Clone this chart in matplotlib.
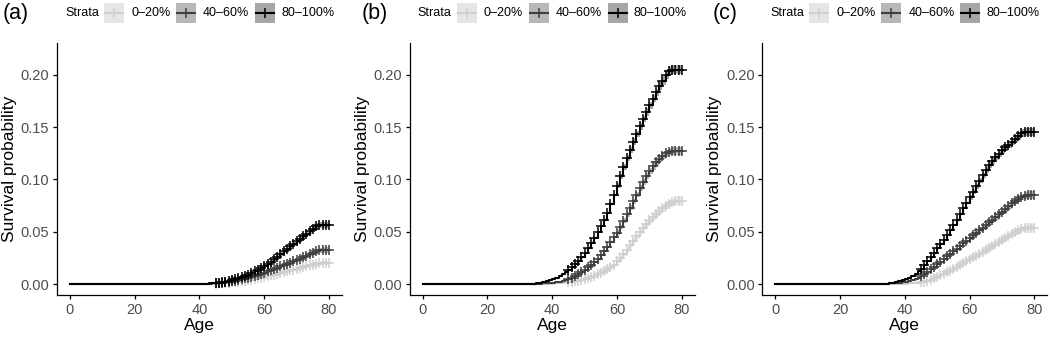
import matplotlib
matplotlib.use("Agg")
import matplotlib.pyplot as plt
from matplotlib.patches import Rectangle

plt.rcParams['font.family'] = ['Liberation Sans', 'DejaVu Sans']

strata = ['0\u201320%', '40\u201360%', '80\u2013100%']
panel_tags = ['(a)', '(b)', '(c)']

# ages where the curves step (0, then 35..80)
ages = [0] + list(range(35, 81))
marker_from = 45      # censor marks from this age on
band_from = 60        # band lists start at this age

# ---- panel (a) ----
a_low = [0.0,
         0.0, 0.0, 0.0, 0.0, 0.0001, 0.0001, 0.0001, 0.0002, 0.0002, 0.0003,
         0.0004, 0.0005, 0.0007, 0.0009, 0.0012, 0.0015, 0.0019, 0.0023, 0.0028, 0.0033,
         0.0038, 0.0043, 0.0049, 0.0055, 0.0061, 0.0068, 0.0075, 0.0082, 0.0090, 0.0098,
         0.0106, 0.0114, 0.0122, 0.0130, 0.0138, 0.0146, 0.0154, 0.0162, 0.0170, 0.0178,
         0.0186, 0.0193, 0.0198, 0.0200, 0.0200, 0.0200]
a_mid = [0.0,
         0.0, 0.0, 0.0001, 0.0001, 0.0001, 0.0002, 0.0002, 0.0003, 0.0004, 0.0005,
         0.0007, 0.0009, 0.0012, 0.0016, 0.0021, 0.0026, 0.0032, 0.0039, 0.0046, 0.0054,
         0.0062, 0.0071, 0.0080, 0.0090, 0.0100, 0.0110, 0.0121, 0.0132, 0.0144, 0.0156,
         0.0168, 0.0180, 0.0192, 0.0205, 0.0218, 0.0231, 0.0244, 0.0257, 0.0271, 0.0286,
         0.0301, 0.0315, 0.0324, 0.0325, 0.0325, 0.0325]
a_high = [0.0,
          0.0, 0.0, 0.0001, 0.0001, 0.0002, 0.0002, 0.0003, 0.0004, 0.0005, 0.0007,
          0.0009, 0.0012, 0.0016, 0.0022, 0.0028, 0.0036, 0.0045, 0.0055, 0.0066, 0.0078,
          0.0091, 0.0105, 0.0120, 0.0136, 0.0153, 0.0171, 0.0191, 0.0213, 0.0237, 0.0262,
          0.0287, 0.0312, 0.0337, 0.0362, 0.0387, 0.0411, 0.0434, 0.0458, 0.0482, 0.0506,
          0.0530, 0.0552, 0.0564, 0.0564, 0.0564, 0.0564]

# ---- panel (b) ----
b_low = [0.0,
         0.0001, 0.0002, 0.0002, 0.0003, 0.0004, 0.0005, 0.0007, 0.0009, 0.0012, 0.0015,
         0.0019, 0.0023, 0.0028, 0.0033, 0.0039, 0.0046, 0.0055, 0.0066, 0.0079, 0.0093,
         0.0108, 0.0124, 0.0141, 0.0159, 0.0181, 0.0216, 0.0252, 0.0290, 0.0330, 0.0372,
         0.0415, 0.0458, 0.0500, 0.0540, 0.0577, 0.0611, 0.0643, 0.0672, 0.0699, 0.0724,
         0.0746, 0.0766, 0.0782, 0.0792, 0.0795, 0.0795]
b_mid = [0.0,
         0.0003, 0.0004, 0.0006, 0.0008, 0.0011, 0.0014, 0.0018, 0.0023, 0.0030, 0.0039,
         0.0050, 0.0062, 0.0076, 0.0092, 0.0112, 0.0135, 0.0158, 0.0183, 0.0211, 0.0243,
         0.0278, 0.0316, 0.0357, 0.0400, 0.0445, 0.0492, 0.0548, 0.0606, 0.0666, 0.0728,
         0.0792, 0.0855, 0.0918, 0.0976, 0.1030, 0.1080, 0.1124, 0.1163, 0.1197, 0.1226,
         0.1250, 0.1266, 0.1275, 0.1275, 0.1275, 0.1275]
b_high = [0.0,
          0.0010, 0.0014, 0.0019, 0.0026, 0.0035, 0.0046, 0.0060, 0.0076, 0.0094, 0.0114,
          0.0136, 0.0160, 0.0189, 0.0222, 0.0259, 0.0300, 0.0345, 0.0393, 0.0444, 0.0498,
          0.0555, 0.0615, 0.0680, 0.0765, 0.0852, 0.0940, 0.1030, 0.1120, 0.1205, 0.1285,
          0.1362, 0.1436, 0.1508, 0.1578, 0.1645, 0.1710, 0.1772, 0.1832, 0.1890, 0.1946,
          0.2000, 0.2040, 0.2050, 0.2050, 0.2050, 0.2050]

# ---- panel (c) ----
c_low = [0.0,
         0.0001, 0.0001, 0.0002, 0.0002, 0.0003, 0.0004, 0.0005, 0.0007, 0.0009, 0.0012,
         0.0016, 0.0021, 0.0030, 0.0042, 0.0056, 0.0070, 0.0084, 0.0098, 0.0113, 0.0129,
         0.0146, 0.0164, 0.0182, 0.0200, 0.0218, 0.0236, 0.0254, 0.0272, 0.0291, 0.0310,
         0.0329, 0.0348, 0.0367, 0.0386, 0.0405, 0.0424, 0.0443, 0.0462, 0.0480, 0.0497,
         0.0512, 0.0525, 0.0535, 0.0540, 0.0540, 0.0540]
c_mid = [0.0,
         0.0005, 0.0007, 0.0009, 0.0012, 0.0016, 0.0021, 0.0028, 0.0036, 0.0047, 0.0061,
         0.0078, 0.0097, 0.0118, 0.0141, 0.0165, 0.0190, 0.0215, 0.0240, 0.0264, 0.0289,
         0.0314, 0.0339, 0.0364, 0.0389, 0.0414, 0.0439, 0.0465, 0.0490, 0.0515, 0.0540,
         0.0565, 0.0590, 0.0615, 0.0640, 0.0666, 0.0693, 0.0720, 0.0747, 0.0772, 0.0795,
         0.0815, 0.0832, 0.0845, 0.0850, 0.0850, 0.0850]
c_high = [0.0,
          0.0010, 0.0013, 0.0018, 0.0025, 0.0034, 0.0045, 0.0059, 0.0076, 0.0096, 0.0120,
          0.0148, 0.0180, 0.0217, 0.0257, 0.0299, 0.0341, 0.0383, 0.0425, 0.0468, 0.0515,
          0.0565, 0.0617, 0.0670, 0.0723, 0.0776, 0.0829, 0.0882, 0.0935, 0.0988, 0.1040,
          0.1090, 0.1135, 0.1176, 0.1213, 0.1246, 0.1277, 0.1306, 0.1334, 0.1362, 0.1390,
          0.1416, 0.1440, 0.1455, 0.1456, 0.1456, 0.1456]

# confidence band half widths, ages 60..80
a_low_ci = [0.0010, 0.0011, 0.0011, 0.0012, 0.0012, 0.0013, 0.0014, 0.0014, 0.0015, 0.0016, 0.0016,
            0.0017, 0.0018, 0.0018, 0.0019, 0.0020, 0.0020, 0.0021, 0.0022, 0.0022, 0.0022]
a_mid_ci = [0.0010, 0.0011, 0.0012, 0.0012, 0.0013, 0.0014, 0.0015, 0.0015, 0.0016, 0.0017, 0.0018,
            0.0019, 0.0019, 0.0020, 0.0021, 0.0022, 0.0023, 0.0024, 0.0025, 0.0025, 0.0025]
a_high_ci = [0.0012, 0.0013, 0.0014, 0.0015, 0.0016, 0.0017, 0.0018, 0.0019, 0.0020, 0.0021, 0.0022,
             0.0023, 0.0024, 0.0025, 0.0026, 0.0027, 0.0028, 0.0029, 0.0030, 0.0030, 0.0030]
b_low_ci = [0.0018, 0.0019, 0.0020, 0.0021, 0.0022, 0.0023, 0.0024, 0.0025, 0.0026, 0.0027, 0.0028,
            0.0029, 0.0030, 0.0031, 0.0032, 0.0033, 0.0034, 0.0035, 0.0036, 0.0038, 0.0038]
b_mid_ci = [0.0020, 0.0021, 0.0022, 0.0023, 0.0024, 0.0025, 0.0026, 0.0027, 0.0028, 0.0029, 0.0030,
            0.0031, 0.0032, 0.0033, 0.0034, 0.0035, 0.0036, 0.0037, 0.0038, 0.0040, 0.0040]
b_high_ci = [0.0025, 0.0026, 0.0027, 0.0028, 0.0029, 0.0030, 0.0031, 0.0032, 0.0033, 0.0034, 0.0035,
             0.0036, 0.0037, 0.0038, 0.0039, 0.0040, 0.0041, 0.0042, 0.0043, 0.0045, 0.0045]
c_low_ci = [0.0015, 0.0016, 0.0017, 0.0018, 0.0019, 0.0020, 0.0021, 0.0022, 0.0022, 0.0023, 0.0024,
            0.0025, 0.0026, 0.0027, 0.0028, 0.0029, 0.0030, 0.0031, 0.0032, 0.0032, 0.0032]
c_mid_ci = [0.0018, 0.0019, 0.0020, 0.0021, 0.0021, 0.0022, 0.0023, 0.0024, 0.0025, 0.0026, 0.0027,
            0.0028, 0.0029, 0.0030, 0.0031, 0.0032, 0.0033, 0.0034, 0.0035, 0.0035, 0.0035]
c_high_ci = [0.0022, 0.0023, 0.0024, 0.0025, 0.0026, 0.0027, 0.0028, 0.0029, 0.0030, 0.0031, 0.0032,
             0.0033, 0.0034, 0.0035, 0.0036, 0.0037, 0.0038, 0.0039, 0.0040, 0.0040, 0.0040]

panels = [
    ([a_low, a_mid, a_high], [a_low_ci, a_mid_ci, a_high_ci]),
    ([b_low, b_mid, b_high], [b_low_ci, b_mid_ci, b_high_ci]),
    ([c_low, c_mid, c_high], [c_low_ci, c_mid_ci, c_high_ci]),
]

line_cols = ['#cfcfcf', '#3f3f3f', '#000000']
band_cols = ['#e6e6e6', '#b8b8b8', '#a6a6a6']

W, H = 1050, 338
fig = plt.figure(figsize=(W / 100, H / 100), dpi=100)

lefts = [57, 409.7, 762.3]
ax_w, ax_top, ax_bot = 285, 43, 295

mk_idx = [i for i, a in enumerate(ages) if a >= marker_from]
bd_idx = [i for i, a in enumerate(ages) if a >= band_from]
mk_ages = [ages[i] for i in mk_idx]
bd_ages = [ages[i] for i in bd_idx]

for p, (series, cis) in enumerate(panels):
    ax = fig.add_axes([lefts[p] / W, (H - ax_bot) / H, ax_w / W, (ax_bot - ax_top) / H])
    for k in range(3):
        vals = [series[k][i] for i in bd_idx]
        lo = [v - c for v, c in zip(vals, cis[k])]
        hi = [v + c for v, c in zip(vals, cis[k])]
        ax.fill_between(bd_ages, lo, hi, step='post', color=band_cols[k], lw=0, zorder=1)
    for k in range(3):
        ax.step(ages, series[k], where='post', color=line_cols[k], lw=1.5, zorder=2 + k)
        ax.plot(mk_ages, [series[k][i] for i in mk_idx], ls='none', marker='+',
                ms=6.5, mew=1.1, color=line_cols[k], zorder=2 + k)

    ax.set_xlim(-4, 84)
    ax.set_ylim(-0.0105, 0.2305)
    ax.set_xticks([0, 20, 40, 60, 80])
    ax.set_yticks([0.0, 0.05, 0.10, 0.15, 0.20])
    ax.set_yticklabels(['0.00', '0.05', '0.10', '0.15', '0.20'])
    for s in ['top', 'right']:
        ax.spines[s].set_visible(False)
    for s in ['left', 'bottom']:
        ax.spines[s].set_linewidth(0.9)
    ax.tick_params(length=3, width=0.9, pad=2.5, labelsize=10.5, labelcolor='#4d4d4d')
    ax.set_xlabel('Age', fontsize=12.5)
    ax.set_ylabel('Survival probability', fontsize=12.5)
    ax.xaxis.set_label_coords(0.5, -0.09)
    ax.yaxis.set_label_coords(-0.14, 0.5)

# legends and panel tags drawn in pixel space
ov = fig.add_axes([0, 0, 1, 1])
ov.set_xlim(0, W)
ov.set_ylim(H, 0)
ov.axis('off')
ov.patch.set_visible(False)

tag_x = [3, 362, 713]
for p in range(3):
    dx = lefts[p] - lefts[0]
    ov.text(tag_x[p], 13, panel_tags[p], fontsize=15.5, va='center', ha='left')
    ov.text(65 + dx, 13, 'Strata', fontsize=9, va='center', ha='left')
    for k, (kx, lx) in enumerate([(104, 131), (176, 203), (255, 281)]):
        ov.add_patch(Rectangle((kx + dx, 3), 20, 20, color=band_cols[k], lw=0))
        ov.plot([kx + dx + 1, kx + dx + 19], [13, 13], color=line_cols[k], lw=1.5)
        ov.plot([kx + dx + 10], [13], marker='+', ms=6.5, mew=1.1, color=line_cols[k])
        ov.text(lx + dx, 13, strata[k], fontsize=9, va='center', ha='left')

fig.savefig('out.png', dpi=100)
